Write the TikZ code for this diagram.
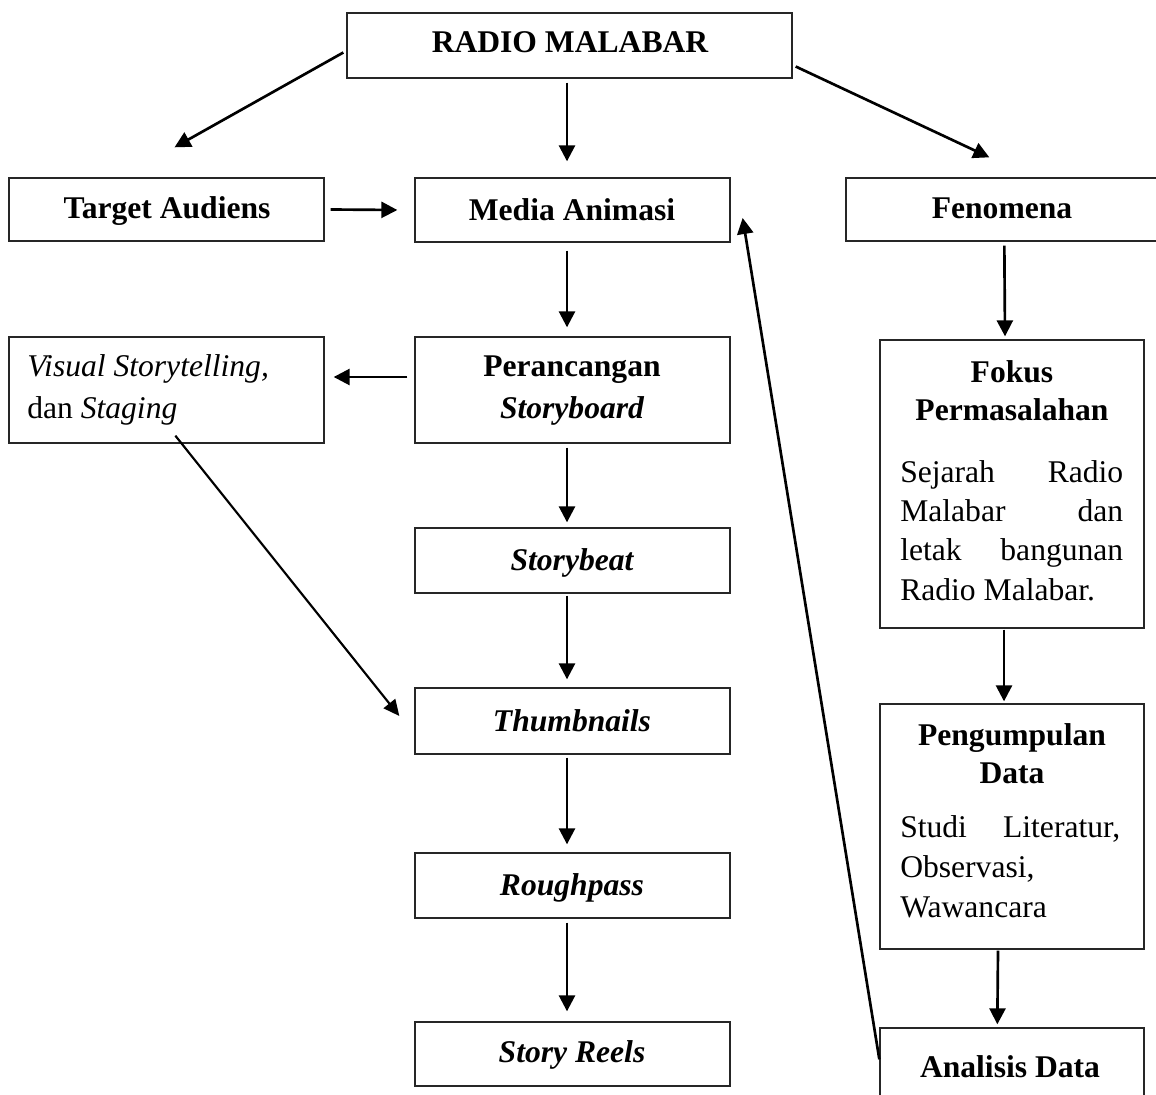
\documentclass[tikz,border=0pt]{standalone}
\usepackage{fontspec}
\setmainfont{Liberation Serif}
\usetikzlibrary{arrows.meta,calc,fit}
\begin{document}
\begin{tikzpicture}[x=0.75pt,y=-0.75pt,
  box/.style={draw=black!85, line width=1pt, inner sep=0pt},
  arr/.style={line width=2pt, -{Triangle[length=12pt,width=12pt]}},
  thinarr/.style={line width=1.6pt, -{Triangle[length=12pt,width=11pt]}},
  txt/.style={inner sep=0pt, font=\fontsize{23.7}{28}\selectfont},
  btxt/.style={txt, font=\fontsize{23.7}{28}\selectfont\bfseries}]
\useasboundingbox (0,0) rectangle (1156,1095);

% boxes
\node[box, fit={(347,13) (792,78)}] (radio) {};
\node[box, fit={(9,178) (324,241)}] (target) {};
\node[box, fit={(415,178) (730,242)}] (media) {};
\node[box, fit={(846,178) (1165,241)}] (fenomena) {};
\node[box, fit={(9,337) (324,443)}] (visual) {};
\node[box, fit={(415,337) (730,443)}] (peran) {};
\node[box, fit={(415,528) (730,593)}] (storybeat) {};
\node[box, fit={(415,688) (730,754)}] (thumb) {};
\node[box, fit={(415,853) (730,918)}] (rough) {};
\node[box, fit={(415,1022) (730,1086)}] (reels) {};
\node[box, fit={(880,340) (1144,628)}] (fokus) {};
\node[box, fit={(880,704) (1144,949)}] (peng) {};
\node[box, fit={(880,1028) (1144,1115)}] (anal) {};

% single-line texts
\node[btxt, anchor=base] (radiotxt) at (570,53) {RADIO MALABAR};
\node[btxt, anchor=base] (targettxt) at (167,218) {Target Audiens};
\node[btxt, anchor=base] (mediatxt) at (572,220) {Media Animasi};
\node[btxt, anchor=base] (fenomenatxt) at (1002,218) {Fenomena};
\node[btxt, anchor=base] (storybeattxt) at (572,570) {\itshape Storybeat};
\node[btxt, anchor=base] (thumbtxt) at (572,731) {\itshape Thumbnails};
\node[btxt, anchor=base] (roughtxt) at (572,895) {\itshape Roughpass};
\node[btxt, anchor=base] (reelstxt) at (572,1062) {\itshape Story Reels};

% texts in multi-line boxes
\node[txt, anchor=base west] (vis1) at (27,376) {\itshape Visual Storytelling,};
\node[txt, anchor=base west] (vis2) at (27,418) {dan \textit{Staging}};
\node[btxt, anchor=base] (per1) at (572,376) {Perancangan};
\node[btxt, anchor=base] (per2) at (572,418) {\itshape Storyboard};

\node[btxt, anchor=base] (fok1) at (1012,382) {Fokus};
\node[btxt, anchor=base] (fok2) at (1012,420) {Permasalahan};
\node[txt, anchor=base west] (fok3) at (900,482) {\hbox to 167.25pt{Sejarah\hfill Radio}};
\node[txt, anchor=base west] (fok4) at (900,521) {\hbox to 167.25pt{Malabar\hfill dan}};
\node[txt, anchor=base west] (fok5) at (900,560) {\hbox to 167.25pt{letak\hfill bangunan}};
\node[txt, anchor=base west] (fok6) at (900,600) {Radio Malabar.};

\node[btxt, anchor=base] (pen1) at (1012,745) {Pengumpulan};
\node[btxt, anchor=base] (pen2) at (1012,783) {Data};
\node[txt, anchor=base west] (pen3) at (900,837) {\hbox to 165pt{Studi\hfill Literatur,}};
\node[txt, anchor=base west] (pen4) at (900,877) {Observasi,};
\node[txt, anchor=base west] (pen5) at (900,917) {Wawancara};

\node[btxt, anchor=base] (ana1) at (1010,1077) {Analisis Data};

% connectors
\draw[arr] ($(radio.west)+(-3,7)$) -- ($(target.north)+(8,-30)$);
\draw[arr] ($(radio.south)+(-2.5,4)$) -- ($(media.north)+(-5.5,-16)$);
\draw[arr] ($(radio.east)+(3,21)$) -- ($(fenomena.north west)+(144,-20)$);
\draw[arr] ($(target.east)+(6,0)$) -- ($(media.west)+(-17,0)$);
\draw[arr] ($(media.south)+(-5.5,8)$) -- ($(peran.north)+(-5.5,-9)$);
\draw[arr] ($(peran.west)+(-7,-13)$) -- ($(visual.east)+(9,-13)$);
\draw[arr] ($(peran.south)+(-5.5,4)$) -- ($(storybeat.north)+(-5.5,-5)$);
\draw[thinarr] ($(visual.south west)+(167,-8)$) -- ($(thumb.west)+(-15,-5)$);
\draw[arr] ($(storybeat.south)+(-5.5,2)$) -- ($(thumb.north)+(-5.5,-8)$);
\draw[arr] ($(thumb.south)+(-5.5,3)$) -- ($(rough.north)+(-5.5,-8)$);
\draw[arr] ($(rough.south)+(-5.5,4)$) -- ($(reels.north)+(-5.5,-10)$);
\draw[arr] ($(fenomena.south west)+(159,4)$) -- ($(fokus.north)+(-7,-3)$);
\draw[arr] ($(fokus.south)+(-8,1)$) -- ($(peng.north)+(-8,-2)$);
\draw[arr] ($(peng.south)+(-14,1)$) -- ($(anal.north west)+(118,-3)$);
\draw[arr] ($(anal.north west)+(0,32)$) -- ($(media.east)+(12,8)$);
\end{tikzpicture}
\end{document}
